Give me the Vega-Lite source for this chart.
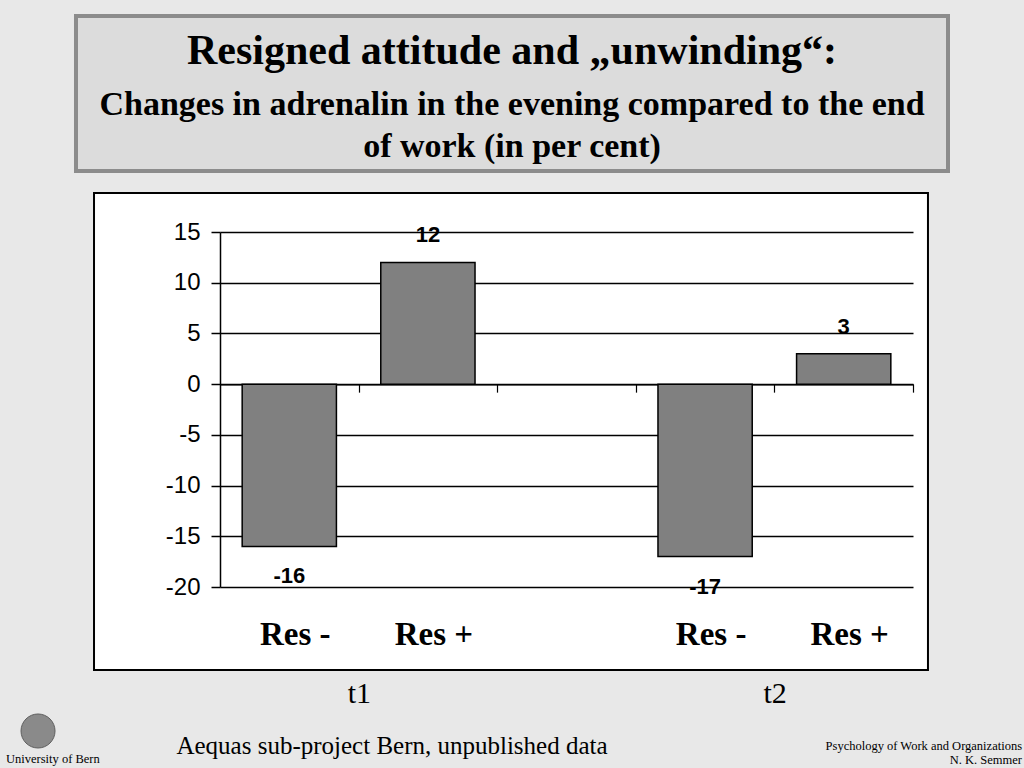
{
  "$schema": "https://vega.github.io/schema/vega-lite/v6.json",
  "width": 693,
  "height": 355,
  "autosize": {"type": "none"},
  "padding": {"left": 220, "top": 232, "right": 111, "bottom": 181},
  "background": "white",
  "config": {"view": {"stroke": null}},
  "datasets": {
    "bars": [
      {"cat": "t1 Res -", "group": "Res -", "time": "t1", "value": -16},
      {"cat": "t1 Res +", "group": "Res +", "time": "t1", "value": 12},
      {"cat": "t2 Res -", "group": "Res -", "time": "t2", "value": -17},
      {"cat": "t2 Res +", "group": "Res +", "time": "t2", "value": 3}
    ]
  },
  "resolve": {"scale": {"x": "independent"}},
  "layer": [
    {
      "data": {"values": [{}]},
      "layer": [
        {
          "mark": {"type": "rect", "fill": "#e8e8e8", "clip": false},
          "encoding": {
            "x": {"datum": -0.5, "type": "quantitative", "scale": {"domain": [0, 1], "nice": false, "zero": false}, "axis": null},
            "x2": {"datum": 1.5},
            "y": {"datum": 18.845, "type": "quantitative"},
            "y2": {"datum": 45}
          }
        },
        {
          "mark": {"type": "rect", "fill": "#e8e8e8", "clip": false},
          "encoding": {
            "x": {"datum": -0.5, "type": "quantitative", "scale": {"domain": [0, 1], "nice": false, "zero": false}, "axis": null},
            "x2": {"datum": 1.5},
            "y": {"datum": -28.183, "type": "quantitative"},
            "y2": {"datum": -45}
          }
        },
        {
          "mark": {"type": "rect", "fill": "#e8e8e8", "clip": false},
          "encoding": {
            "x": {"datum": -0.5, "type": "quantitative", "scale": {"domain": [0, 1], "nice": false, "zero": false}, "axis": null},
            "x2": {"datum": -0.1818},
            "y": {"datum": 18.845, "type": "quantitative"},
            "y2": {"datum": -28.183}
          }
        },
        {
          "mark": {"type": "rect", "fill": "#e8e8e8", "clip": false},
          "encoding": {
            "x": {"datum": 1.0216, "type": "quantitative", "scale": {"domain": [0, 1], "nice": false, "zero": false}, "axis": null},
            "x2": {"datum": 1.5},
            "y": {"datum": 18.845, "type": "quantitative"},
            "y2": {"datum": -28.183}
          }
        },
        {
          "mark": {"type": "rect", "fillOpacity": 0, "stroke": "black", "strokeWidth": 2, "clip": false},
          "encoding": {
            "x": {"datum": -0.1818, "type": "quantitative", "scale": {"domain": [0, 1], "nice": false, "zero": false}, "axis": null},
            "x2": {"datum": 1.0216},
            "y": {"datum": 18.845, "type": "quantitative"},
            "y2": {"datum": -28.183}
          }
        },
        {
          "mark": {"type": "rect", "fill": "#dcdcdc", "stroke": "#8c8c8c", "strokeWidth": 4, "clip": false},
          "encoding": {
            "x": {"datum": -0.2078, "type": "quantitative", "scale": {"domain": [0, 1], "nice": false, "zero": false}, "axis": null},
            "x2": {"datum": 1.0505},
            "y": {"datum": 36.3, "type": "quantitative"},
            "y2": {"datum": 21.01}
          }
        },
        {
          "mark": {"type": "text", "text": "Resigned attitude and „unwinding“:", "font": "Liberation Serif", "fontWeight": "bold", "fontSize": 42, "align": "center", "baseline": "alphabetic", "color": "black", "clip": false},
          "encoding": {
            "x": {"datum": 0.4214, "type": "quantitative", "scale": {"domain": [0, 1], "nice": false, "zero": false}, "axis": null},
            "y": {"datum": 31.563, "type": "quantitative"}
          }
        },
        {
          "mark": {"type": "text", "text": ["Changes in adrenalin in the evening compared to the end", "of work (in per cent)"], "lineHeight": 42, "font": "Liberation Serif", "fontWeight": "bold", "fontSize": 34, "align": "center", "baseline": "alphabetic", "color": "black", "clip": false},
          "encoding": {
            "x": {"datum": 0.4214, "type": "quantitative", "scale": {"domain": [0, 1], "nice": false, "zero": false}, "axis": null},
            "y": {"datum": 26.535, "type": "quantitative"}
          }
        },
        {
          "mark": {"type": "text", "text": "Aequas sub-project Bern, unpublished data", "font": "Liberation Serif", "fontSize": 25, "align": "center", "baseline": "alphabetic", "color": "black", "clip": false},
          "encoding": {
            "x": {"datum": 0.2482, "type": "quantitative", "scale": {"domain": [0, 1], "nice": false, "zero": false}, "axis": null},
            "y": {"datum": -36.465, "type": "quantitative"}
          }
        },
        {
          "mark": {"type": "text", "text": "University of Bern", "font": "Liberation Serif", "fontSize": 12.5, "align": "left", "baseline": "alphabetic", "color": "black", "clip": false},
          "encoding": {
            "x": {"datum": -0.3088, "type": "quantitative", "scale": {"domain": [0, 1], "nice": false, "zero": false}, "axis": null},
            "y": {"datum": -37.352, "type": "quantitative"}
          }
        },
        {
          "mark": {"type": "text", "text": ["Psychology of Work and Organizations", "N. K. Semmer"], "lineHeight": 14, "font": "Liberation Serif", "fontSize": 12.5, "align": "right", "baseline": "alphabetic", "color": "black", "clip": false},
          "encoding": {
            "x": {"datum": 1.1573, "type": "quantitative", "scale": {"domain": [0, 1], "nice": false, "zero": false}, "axis": null},
            "y": {"datum": -36.07, "type": "quantitative"}
          }
        },
        {
          "mark": {"type": "point", "shape": "circle", "filled": true, "fill": "#8a8a8a", "stroke": "#5f5f5f", "strokeWidth": 1, "size": 1156, "opacity": 1, "clip": false},
          "encoding": {
            "x": {"datum": -0.2626, "type": "quantitative", "scale": {"domain": [0, 1], "nice": false, "zero": false}, "axis": null},
            "y": {"datum": -34.197, "type": "quantitative"}
          }
        }
      ]
    },
    {
      "data": {"name": "bars"},
      "layer": [
        {
          "mark": {"type": "bar", "fill": "#808080", "stroke": "black", "strokeWidth": 1.5},
          "encoding": {
            "x": {
              "field": "cat", "type": "nominal", "sort": null,
              "scale": {"domain": ["t1 Res -", "t1 Res +", "gap", "t2 Res -", "t2 Res +"], "paddingInner": 0.32, "paddingOuter": 0.16},
              "axis": {"title": null, "labels": false, "offset": -202.86, "domainColor": "black", "domainWidth": 1.5, "tickColor": "black", "tickWidth": 1.2, "tickSize": 8, "tickOffset": 69.3, "grid": false}
            },
            "y": {
              "field": "value", "type": "quantitative",
              "scale": {"domain": [-20, 15], "nice": false, "zero": false},
              "axis": {"title": null, "values": [-20, -15, -10, -5, 0, 5, 10, 15], "labelExpr": "'' + datum.value", "grid": true, "gridColor": "black", "gridWidth": 1.5, "gridOpacity": 1, "domainColor": "black", "domainWidth": 1.5, "tickColor": "black", "tickWidth": 1.5, "tickSize": 9, "labelFont": "Liberation Sans", "labelFontSize": 24, "labelColor": "black", "labelPadding": 11}
            }
          }
        },
        {
          "transform": [{"filter": "datum.value > 0"}],
          "mark": {"type": "text", "font": "Liberation Sans", "fontWeight": "bold", "fontSize": 22, "baseline": "middle", "dy": -27, "color": "black", "clip": false},
          "encoding": {
            "x": {"field": "cat", "type": "nominal"},
            "y": {"field": "value", "type": "quantitative", "scale": {"domain": [-20, 15], "nice": false, "zero": false}},
            "text": {"field": "value", "type": "nominal"}
          }
        },
        {
          "transform": [{"filter": "datum.value < 0"}],
          "mark": {"type": "text", "font": "Liberation Sans", "fontWeight": "bold", "fontSize": 22, "baseline": "middle", "dy": 30, "color": "black", "clip": false},
          "encoding": {
            "x": {"field": "cat", "type": "nominal"},
            "y": {"field": "value", "type": "quantitative", "scale": {"domain": [-20, 15], "nice": false, "zero": false}},
            "text": {"field": "value", "type": "nominal"}
          }
        },
        {
          "mark": {"type": "text", "font": "Liberation Serif", "fontWeight": "bold", "fontSize": 33, "baseline": "alphabetic", "dx": 6, "color": "black", "clip": false},
          "encoding": {
            "x": {"field": "cat", "type": "nominal"},
            "y": {"datum": -25.718, "type": "quantitative", "scale": {"domain": [-20, 15], "nice": false, "zero": false}},
            "text": {"field": "group", "type": "nominal"}
          }
        },
        {
          "transform": [{"filter": "datum.group === 'Res -'"}],
          "mark": {"type": "text", "font": "Liberation Serif", "fontSize": 30, "baseline": "alphabetic", "dx": 70, "color": "black", "clip": false},
          "encoding": {
            "x": {"field": "cat", "type": "nominal"},
            "y": {"datum": -31.437, "type": "quantitative", "scale": {"domain": [-20, 15], "nice": false, "zero": false}},
            "text": {"field": "time", "type": "nominal"}
          }
        }
      ]
    }
  ]
}
